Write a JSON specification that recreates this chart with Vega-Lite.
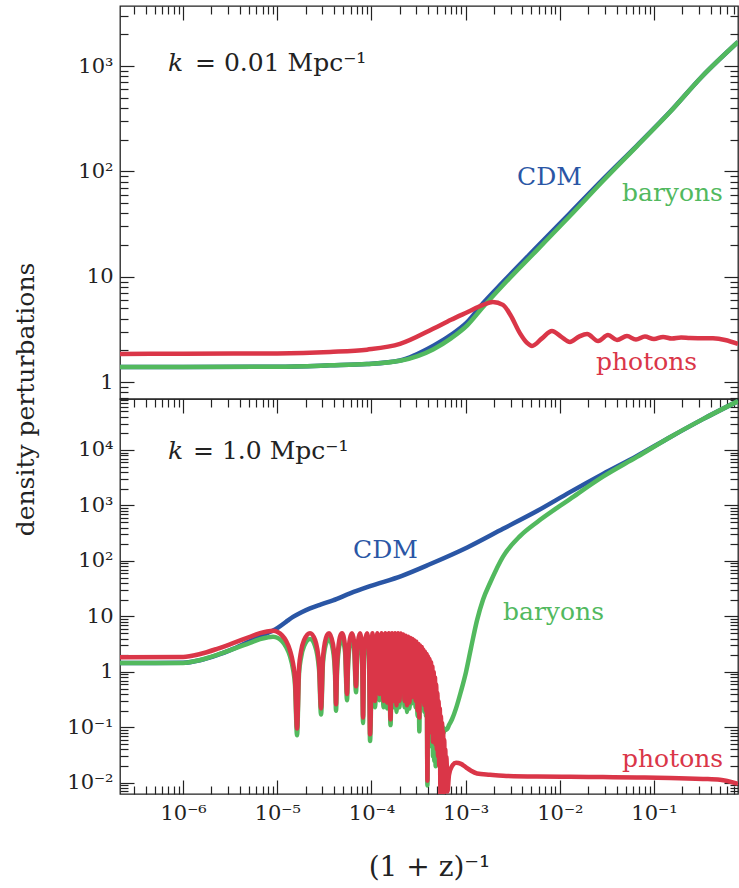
{
  "$schema": "https://vega.github.io/schema/vega-lite/v6.json",
  "padding": {"left": 13, "top": 4, "right": 1, "bottom": 3},
  "background": "white",
  "spacing": 0,
  "bounds": "flush",
  "config": {
    "font": "DejaVu Serif",
    "view": {"stroke": "#222", "strokeWidth": 1.3},
    "axis": {"domain": false, "grid": false, "tickColor": "#222", "tickWidth": 1.2, "labelFont": "DejaVu Serif", "labelFontSize": 21, "labelColor": "#222", "labelOverlap": false, "labelFlush": false, "labelBound": false, "titleFont": "DejaVu Serif", "titleFontSize": 25, "titleFontWeight": "normal", "titleColor": "#222"}
  },
  "datasets": {
    "top": [
      {"species":"CDM","a":2.14e-7,"delta":1.39},{"species":"CDM","a":1e-6,"delta":1.39},{"species":"CDM","a":1e-5,"delta":1.40},{"species":"CDM","a":3.64e-5,"delta":1.44},{"species":"CDM","a":8.97e-5,"delta":1.48},{"species":"CDM","a":2.01e-4,"delta":1.6},{"species":"CDM","a":4.51e-4,"delta":2.2},{"species":"CDM","a":7.0e-4,"delta":2.8},{"species":"CDM","a":1.04e-3,"delta":3.7},{"species":"CDM","a":1.53e-3,"delta":5.6},{"species":"CDM","a":2.49e-3,"delta":8.9},{"species":"CDM","a":5.73e-3,"delta":19.2},{"species":"CDM","a":1.28e-2,"delta":40},{"species":"CDM","a":2.87e-2,"delta":84},{"species":"CDM","a":6.6e-2,"delta":176},{"species":"CDM","a":0.148,"delta":368},{"species":"CDM","a":0.32,"delta":788},{"species":"CDM","a":0.78,"delta":1694},
      {"species":"baryons","a":2.14e-7,"delta":1.39},{"species":"baryons","a":1e-6,"delta":1.39},{"species":"baryons","a":1e-5,"delta":1.40},{"species":"baryons","a":3.64e-5,"delta":1.44},{"species":"baryons","a":8.97e-5,"delta":1.48},{"species":"baryons","a":2.01e-4,"delta":1.59},{"species":"baryons","a":4.51e-4,"delta":2.04},{"species":"baryons","a":7.0e-4,"delta":2.6},{"species":"baryons","a":1.04e-3,"delta":3.45},{"species":"baryons","a":1.53e-3,"delta":5.15},{"species":"baryons","a":2.49e-3,"delta":8.3},{"species":"baryons","a":5.73e-3,"delta":17.9},{"species":"baryons","a":1.28e-2,"delta":37.7},{"species":"baryons","a":2.87e-2,"delta":81},{"species":"baryons","a":6.6e-2,"delta":174},{"species":"baryons","a":0.148,"delta":366},{"species":"baryons","a":0.32,"delta":788},{"species":"baryons","a":0.78,"delta":1694},
      {"species":"photons","a":2.14e-7,"delta":1.85},{"species":"photons","a":1e-6,"delta":1.86},{"species":"photons","a":1e-5,"delta":1.87},{"species":"photons","a":3.64e-5,"delta":1.93},{"species":"photons","a":8.97e-5,"delta":2.03},{"species":"photons","a":2.01e-4,"delta":2.3},{"species":"photons","a":4.51e-4,"delta":3.2},{"species":"photons","a":7.0e-4,"delta":3.9},{"species":"photons","a":1.04e-3,"delta":4.6},{"species":"photons","a":1.53e-3,"delta":5.4},{"species":"photons","a":1.95e-3,"delta":5.75},{"species":"photons","a":2.49e-3,"delta":5.4},{"species":"photons","a":2.96e-3,"delta":4.4},{"species":"photons","a":3.78e-3,"delta":2.9},{"species":"photons","a":4.49e-3,"delta":2.35},{"species":"photons","a":5.07e-3,"delta":2.2},{"species":"photons","a":6.47e-3,"delta":2.6},{"species":"photons","a":8.26e-3,"delta":3.05},{"species":"photons","a":1.03e-2,"delta":2.7},{"species":"photons","a":1.28e-2,"delta":2.4},{"species":"photons","a":1.6e-2,"delta":2.7},{"species":"photons","a":1.95e-2,"delta":2.86},{"species":"photons","a":2.55e-2,"delta":2.45},{"species":"photons","a":3.25e-2,"delta":2.79},{"species":"photons","a":4.05e-2,"delta":2.51},{"species":"photons","a":5.16e-2,"delta":2.73},{"species":"photons","a":6.44e-2,"delta":2.53},{"species":"photons","a":8.02e-2,"delta":2.70},{"species":"photons","a":0.1,"delta":2.56},{"species":"photons","a":0.125,"delta":2.68},{"species":"photons","a":0.155,"delta":2.59},{"species":"photons","a":0.194,"delta":2.65},{"species":"photons","a":0.241,"delta":2.62},{"species":"photons","a":0.423,"delta":2.6},{"species":"photons","a":0.568,"delta":2.51},{"species":"photons","a":0.78,"delta":2.3}
    ],
    "bottom": [
      {"species":"CDM","a":2.14e-7,"delta":1.45},{"species":"CDM","a":1e-6,"delta":1.46},{"species":"CDM","a":1.515e-6,"delta":1.62},{"species":"CDM","a":2.296e-6,"delta":2.0},{"species":"CDM","a":3.395e-6,"delta":2.6},{"species":"CDM","a":5.143e-6,"delta":3.6},{"species":"CDM","a":6.568e-6,"delta":4.3},{"species":"CDM","a":7.793e-6,"delta":5.0},{"species":"CDM","a":9.03e-6,"delta":5.6},{"species":"CDM","a":1.02e-5,"delta":6.3},{"species":"CDM","a":1.24e-5,"delta":8.0},{"species":"CDM","a":1.47e-5,"delta":9.8},{"species":"CDM","a":1.79e-5,"delta":11.8},{"species":"CDM","a":2.23e-5,"delta":14},{"species":"CDM","a":2.92e-5,"delta":16.5},{"species":"CDM","a":3.91e-5,"delta":19.5},{"species":"CDM","a":5.93e-5,"delta":26},{"species":"CDM","a":9.66e-5,"delta":35},{"species":"CDM","a":2.11e-4,"delta":54},{"species":"CDM","a":4.22e-4,"delta":88},{"species":"CDM","a":1.04e-3,"delta":175},{"species":"CDM","a":2.495e-3,"delta":380},{"species":"CDM","a":5.73e-3,"delta":795},{"species":"CDM","a":1.283e-2,"delta":1740},{"species":"CDM","a":2.873e-2,"delta":3700},{"species":"CDM","a":6.6e-2,"delta":7800},{"species":"CDM","a":0.148,"delta":17000},{"species":"CDM","a":0.331,"delta":36000},{"species":"CDM","a":0.78,"delta":76000},
      {"species":"photons","a":2.14e-7,"delta":1.84},{"species":"photons","a":1e-6,"delta":1.86},{"species":"photons","a":1.515e-6,"delta":2.1},{"species":"photons","a":2.296e-6,"delta":2.6},{"species":"photons","a":3.395e-6,"delta":3.3},{"species":"photons","a":5.143e-6,"delta":4.3},{"species":"photons","a":6.568e-6,"delta":5.0},{"species":"photons","a":7.793e-6,"delta":5.35},{"species":"photons","a":9.025e-6,"delta":5.5},{"species":"photons","a":1.0197e-5,"delta":5.2},{"species":"photons","a":1.1245e-5,"delta":4.56},{"species":"photons","a":1.2402e-5,"delta":3.63},{"species":"photons","a":1.3677e-5,"delta":2.43},{"species":"photons","a":1.4715e-5,"delta":1.42},{"species":"photons","a":1.5453e-5,"delta":0.72},{"species":"photons","a":1.6226e-5,"delta":0.095},{"species":"photons","a":1.7036e-5,"delta":1.2},{"species":"photons","a":1.7889e-5,"delta":2.32},{"species":"photons","a":1.9251e-5,"delta":3.74},{"species":"photons","a":2.2293e-5,"delta":5.0},{"species":"photons","a":2.5191e-5,"delta":3.78},{"species":"photons","a":2.7783e-5,"delta":1.41},{"species":"photons","a":2.9177e-5,"delta":0.22},{"species":"photons","a":3.0636e-5,"delta":1.91},{"species":"photons","a":3.3788e-5,"delta":4.62},{"species":"photons","a":3.5477e-5,"delta":5.0},{"species":"photons","a":3.9127e-5,"delta":3.12},{"species":"photons","a":4.1085e-5,"delta":1.11},{"species":"photons","a":4.2101e-5,"delta":0.26},{"species":"photons","a":4.3141e-5,"delta":1.29},{"species":"photons","a":4.6416e-5,"delta":4.33},{"species":"photons","a":4.8748e-5,"delta":5.0},{"species":"photons","a":5.2449e-5,"delta":2.94},{"species":"photons","a":5.5079e-5,"delta":0.4},{"species":"photons","a":5.6442e-5,"delta":1.55},{"species":"photons","a":5.927e-5,"delta":4.05},{"species":"photons","a":6.2241e-5,"delta":5.0},{"species":"photons","a":6.5363e-5,"delta":3.54},{"species":"photons","a":6.8634e-5,"delta":0.55},{"species":"photons","a":7.0333e-5,"delta":1.91},{"species":"photons","a":7.2075e-5,"delta":3.54},{"species":"photons","a":7.5684e-5,"delta":5.0},{"species":"photons","a":7.9474e-5,"delta":2.5},{"species":"photons","a":8.1442e-5,"delta":0.15},{"species":"photons","a":8.3455e-5,"delta":1.91},{"species":"photons","a":8.552e-5,"delta":3.54},{"species":"photons","a":8.9802e-5,"delta":5.0},{"species":"photons","a":9.4298e-5,"delta":2.5},{"species":"photons","a":9.664e-5,"delta":0.075},
      {"species":"photons","a":1.027e-4,"delta":5.0},{"species":"photons","a":1.092e-4,"delta":0.3},{"species":"photons","a":1.154e-4,"delta":5.0},{"species":"photons","a":1.219e-4,"delta":0.4},{"species":"photons","a":1.280e-4,"delta":5.0},{"species":"photons","a":1.344e-4,"delta":0.3},{"species":"photons","a":1.403e-4,"delta":5.0},{"species":"photons","a":1.464e-4,"delta":0.28},{"species":"photons","a":1.528e-4,"delta":5.0},{"species":"photons","a":1.595e-4,"delta":0.14},{"species":"photons","a":1.655e-4,"delta":5.0},{"species":"photons","a":1.717e-4,"delta":0.3},{"species":"photons","a":1.781e-4,"delta":5.0},{"species":"photons","a":1.847e-4,"delta":0.25},{"species":"photons","a":1.916e-4,"delta":5.0},{"species":"photons","a":1.988e-4,"delta":0.3},{"species":"photons","a":2.050e-4,"delta":4.9},{"species":"photons","a":2.113e-4,"delta":0.9},{"species":"photons","a":2.179e-4,"delta":4.7},{"species":"photons","a":2.246e-4,"delta":0.3},{"species":"photons","a":2.316e-4,"delta":4.5},{"species":"photons","a":2.387e-4,"delta":0.25},{"species":"photons","a":2.461e-4,"delta":4.3},{"species":"photons","a":2.538e-4,"delta":0.28},{"species":"photons","a":2.601e-4,"delta":4.1},{"species":"photons","a":2.665e-4,"delta":0.35},{"species":"photons","a":2.731e-4,"delta":3.9},{"species":"photons","a":2.799e-4,"delta":0.55},{"species":"photons","a":2.868e-4,"delta":3.7},{"species":"photons","a":2.939e-4,"delta":0.3},{"species":"photons","a":3.012e-4,"delta":3.5},{"species":"photons","a":3.086e-4,"delta":0.2},{"species":"photons","a":3.155e-4,"delta":3.2},{"species":"photons","a":3.225e-4,"delta":0.15},{"species":"photons","a":3.293e-4,"delta":3.0},{"species":"photons","a":3.362e-4,"delta":0.3},{"species":"photons","a":3.432e-4,"delta":2.8},{"species":"photons","a":3.505e-4,"delta":0.35},{"species":"photons","a":3.574e-4,"delta":2.5},{"species":"photons","a":3.644e-4,"delta":0.25},{"species":"photons","a":3.716e-4,"delta":2.3},{"species":"photons","a":3.790e-4,"delta":0.2},{"species":"photons","a":3.860e-4,"delta":2.1},{"species":"photons","a":3.931e-4,"delta":0.011},{"species":"photons","a":4.004e-4,"delta":1.9},{"species":"photons","a":4.078e-4,"delta":0.15},{"species":"photons","a":4.148e-4,"delta":1.7},{"species":"photons","a":4.220e-4,"delta":0.12},{"species":"photons","a":4.292e-4,"delta":1.5},{"species":"photons","a":4.366e-4,"delta":0.08},{"species":"photons","a":4.437e-4,"delta":1.25},{"species":"photons","a":4.507e-4,"delta":0.055},{"species":"photons","a":4.580e-4,"delta":1.0},{"species":"photons","a":4.653e-4,"delta":0.06},{"species":"photons","a":4.728e-4,"delta":0.8},{"species":"photons","a":4.803e-4,"delta":0.05},{"species":"photons","a":4.874e-4,"delta":0.6},{"species":"photons","a":4.946e-4,"delta":0.04},{"species":"photons","a":5.019e-4,"delta":0.42},{"species":"photons","a":5.093e-4,"delta":0.03},{"species":"photons","a":5.169e-4,"delta":0.3},{"species":"photons","a":5.245e-4,"delta":0.02},{"species":"photons","a":5.322e-4,"delta":0.22},{"species":"photons","a":5.401e-4,"delta":0.006},{"species":"photons","a":5.474e-4,"delta":0.16},{"species":"photons","a":5.548e-4,"delta":0.015},{"species":"photons","a":5.624e-4,"delta":0.12},{"species":"photons","a":5.699e-4,"delta":0.007},{"species":"photons","a":5.777e-4,"delta":0.085},{"species":"photons","a":5.855e-4,"delta":0.006},{"species":"photons","a":5.934e-4,"delta":0.06},{"species":"photons","a":6.014e-4,"delta":0.007},{"species":"photons","a":6.088e-4,"delta":0.04},{"species":"photons","a":6.163e-4,"delta":0.012},{"species":"photons","a":6.239e-4,"delta":0.03},{"species":"photons","a":6.316e-4,"delta":0.02},{"species":"photons","a":6.424e-4,"delta":0.007},{"species":"photons","a":6.664e-4,"delta":0.014},{"species":"photons","a":7.174e-4,"delta":0.02},{"species":"photons","a":7.910e-4,"delta":0.023},{"species":"photons","a":8.937e-4,"delta":0.022},{"species":"photons","a":1.010e-3,"delta":0.019},{"species":"photons","a":1.141e-3,"delta":0.0165},{"species":"photons","a":1.321e-3,"delta":0.0148},{"species":"photons","a":1.816e-3,"delta":0.014},{"species":"photons","a":2.495e-3,"delta":0.0134},{"species":"photons","a":5.728e-3,"delta":0.013},{"species":"photons","a":1.283e-2,"delta":0.0129},{"species":"photons","a":2.873e-2,"delta":0.0127},{"species":"photons","a":6.6e-2,"delta":0.0125},{"species":"photons","a":0.1479,"delta":0.0123},{"species":"photons","a":0.331,"delta":0.0118},{"species":"photons","a":0.502,"delta":0.0114},{"species":"photons","a":0.78,"delta":0.0096},
      {"species":"baryons","a":2.14e-7,"delta":1.44},{"species":"baryons","a":1e-6,"delta":1.45},{"species":"baryons","a":1.515e-6,"delta":1.64},{"species":"baryons","a":2.296e-6,"delta":2.03},{"species":"baryons","a":3.395e-6,"delta":2.57},{"species":"baryons","a":5.143e-6,"delta":3.35},{"species":"baryons","a":6.568e-6,"delta":3.9},{"species":"baryons","a":7.793e-6,"delta":4.17},{"species":"baryons","a":9.025e-6,"delta":4.3},{"species":"baryons","a":1.0197e-5,"delta":4.06},{"species":"baryons","a":1.1245e-5,"delta":3.56},{"species":"baryons","a":1.2402e-5,"delta":2.83},{"species":"baryons","a":1.3677e-5,"delta":1.9},{"species":"baryons","a":1.4715e-5,"delta":1.11},{"species":"baryons","a":1.5453e-5,"delta":0.56},{"species":"baryons","a":1.6226e-5,"delta":0.072},{"species":"baryons","a":1.7036e-5,"delta":0.94},{"species":"baryons","a":1.7889e-5,"delta":1.81},{"species":"baryons","a":1.9251e-5,"delta":2.92},{"species":"baryons","a":2.2293e-5,"delta":3.9},{"species":"baryons","a":2.5191e-5,"delta":2.95},{"species":"baryons","a":2.7783e-5,"delta":1.1},{"species":"baryons","a":2.9177e-5,"delta":0.17},{"species":"baryons","a":3.0636e-5,"delta":1.49},{"species":"baryons","a":3.3788e-5,"delta":3.6},{"species":"baryons","a":3.5477e-5,"delta":3.9},{"species":"baryons","a":3.9127e-5,"delta":2.43},{"species":"baryons","a":4.1085e-5,"delta":0.87},{"species":"baryons","a":4.2101e-5,"delta":0.2},{"species":"baryons","a":4.3141e-5,"delta":1.0},{"species":"baryons","a":4.6416e-5,"delta":3.38},{"species":"baryons","a":4.8748e-5,"delta":3.9},{"species":"baryons","a":5.2449e-5,"delta":2.29},{"species":"baryons","a":5.5079e-5,"delta":0.31},{"species":"baryons","a":5.6442e-5,"delta":1.21},{"species":"baryons","a":5.927e-5,"delta":3.16},{"species":"baryons","a":6.2241e-5,"delta":3.9},{"species":"baryons","a":6.5363e-5,"delta":2.76},{"species":"baryons","a":6.8634e-5,"delta":0.43},{"species":"baryons","a":7.0333e-5,"delta":1.49},{"species":"baryons","a":7.2075e-5,"delta":2.76},{"species":"baryons","a":7.5684e-5,"delta":3.9},{"species":"baryons","a":7.9474e-5,"delta":1.95},{"species":"baryons","a":8.1442e-5,"delta":0.12},{"species":"baryons","a":8.3455e-5,"delta":1.49},{"species":"baryons","a":8.552e-5,"delta":2.76},{"species":"baryons","a":8.9802e-5,"delta":3.9},{"species":"baryons","a":9.4298e-5,"delta":1.95},{"species":"baryons","a":9.664e-5,"delta":0.057},
      {"species":"baryons","a":1.027e-4,"delta":3.9},{"species":"baryons","a":1.092e-4,"delta":0.23},{"species":"baryons","a":1.154e-4,"delta":3.9},{"species":"baryons","a":1.219e-4,"delta":0.31},{"species":"baryons","a":1.280e-4,"delta":3.9},{"species":"baryons","a":1.344e-4,"delta":0.23},{"species":"baryons","a":1.403e-4,"delta":3.9},{"species":"baryons","a":1.464e-4,"delta":0.22},{"species":"baryons","a":1.528e-4,"delta":3.9},{"species":"baryons","a":1.595e-4,"delta":0.11},{"species":"baryons","a":1.655e-4,"delta":3.9},{"species":"baryons","a":1.717e-4,"delta":0.23},{"species":"baryons","a":1.781e-4,"delta":3.9},{"species":"baryons","a":1.847e-4,"delta":0.19},{"species":"baryons","a":1.916e-4,"delta":3.9},{"species":"baryons","a":1.988e-4,"delta":0.23},{"species":"baryons","a":2.050e-4,"delta":3.8},{"species":"baryons","a":2.113e-4,"delta":0.7},{"species":"baryons","a":2.179e-4,"delta":3.7},{"species":"baryons","a":2.246e-4,"delta":0.23},{"species":"baryons","a":2.316e-4,"delta":3.5},{"species":"baryons","a":2.387e-4,"delta":0.19},{"species":"baryons","a":2.461e-4,"delta":3.35},{"species":"baryons","a":2.538e-4,"delta":0.22},{"species":"baryons","a":2.601e-4,"delta":3.2},{"species":"baryons","a":2.665e-4,"delta":0.27},{"species":"baryons","a":2.731e-4,"delta":3.0},{"species":"baryons","a":2.799e-4,"delta":0.43},{"species":"baryons","a":2.868e-4,"delta":2.9},{"species":"baryons","a":2.939e-4,"delta":0.23},{"species":"baryons","a":3.012e-4,"delta":2.7},{"species":"baryons","a":3.086e-4,"delta":0.16},{"species":"baryons","a":3.155e-4,"delta":2.5},{"species":"baryons","a":3.225e-4,"delta":0.085},{"species":"baryons","a":3.293e-4,"delta":2.3},{"species":"baryons","a":3.362e-4,"delta":0.23},{"species":"baryons","a":3.432e-4,"delta":2.2},{"species":"baryons","a":3.505e-4,"delta":0.27},{"species":"baryons","a":3.574e-4,"delta":1.95},{"species":"baryons","a":3.644e-4,"delta":0.19},{"species":"baryons","a":3.716e-4,"delta":1.8},{"species":"baryons","a":3.790e-4,"delta":0.16},{"species":"baryons","a":3.860e-4,"delta":1.64},{"species":"baryons","a":3.931e-4,"delta":0.009},{"species":"baryons","a":4.004e-4,"delta":1.48},{"species":"baryons","a":4.078e-4,"delta":0.12},{"species":"baryons","a":4.148e-4,"delta":1.33},{"species":"baryons","a":4.220e-4,"delta":0.09},{"species":"baryons","a":4.292e-4,"delta":1.17},{"species":"baryons","a":4.366e-4,"delta":0.045},{"species":"baryons","a":4.437e-4,"delta":0.95},{"species":"baryons","a":4.507e-4,"delta":0.03},{"species":"baryons","a":4.580e-4,"delta":0.75},{"species":"baryons","a":4.653e-4,"delta":0.025},{"species":"baryons","a":4.728e-4,"delta":0.55},{"species":"baryons","a":4.803e-4,"delta":0.02},{"species":"baryons","a":4.874e-4,"delta":0.4},{"species":"baryons","a":4.946e-4,"delta":0.025},{"species":"baryons","a":5.019e-4,"delta":0.28},{"species":"baryons","a":5.093e-4,"delta":0.03},{"species":"baryons","a":5.169e-4,"delta":0.2},{"species":"baryons","a":5.245e-4,"delta":0.04},{"species":"baryons","a":5.322e-4,"delta":0.15},{"species":"baryons","a":5.401e-4,"delta":0.05},{"species":"baryons","a":5.474e-4,"delta":0.12},{"species":"baryons","a":5.548e-4,"delta":0.06},{"species":"baryons","a":5.624e-4,"delta":0.11},{"species":"baryons","a":5.699e-4,"delta":0.07},{"species":"baryons","a":5.777e-4,"delta":0.1},{"species":"baryons","a":5.855e-4,"delta":0.08},{"species":"baryons","a":5.934e-4,"delta":0.095},{"species":"baryons","a":6.014e-4,"delta":0.088},{"species":"baryons","a":6.088e-4,"delta":0.092},{"species":"baryons","a":6.163e-4,"delta":0.09},{"species":"baryons","a":6.239e-4,"delta":0.092},{"species":"baryons","a":6.316e-4,"delta":0.093},{"species":"baryons","a":6.424e-4,"delta":0.096},{"species":"baryons","a":6.664e-4,"delta":0.11},{"species":"baryons","a":7.174e-4,"delta":0.14},{"species":"baryons","a":7.910e-4,"delta":0.22},{"species":"baryons","a":8.937e-4,"delta":0.45},{"species":"baryons","a":1.010e-3,"delta":1.0},{"species":"baryons","a":1.141e-3,"delta":2.7},{"species":"baryons","a":1.321e-3,"delta":8.5},{"species":"baryons","a":1.530e-3,"delta":20},{"species":"baryons","a":1.816e-3,"delta":40},{"species":"baryons","a":2.495e-3,"delta":120},{"species":"baryons","a":3.780e-3,"delta":280},{"species":"baryons","a":5.728e-3,"delta":500},{"species":"baryons","a":1.283e-2,"delta":1300},{"species":"baryons","a":2.873e-2,"delta":3300},{"species":"baryons","a":6.6e-2,"delta":7500},{"species":"baryons","a":0.1479,"delta":17000},{"species":"baryons","a":0.331,"delta":36000},{"species":"baryons","a":0.78,"delta":76000}
    ],
    "topLabels": [
      {"species":"CDM","a":3.513e-3,"delta":74.3},{"species":"baryons","a":4.574e-2,"delta":52.4},{"species":"photons","a":2.423e-2,"delta":1.30}
    ],
    "bottomLabels": [
      {"species":"CDM","a":6.378e-5,"delta":113},{"species":"baryons","a":2.495e-3,"delta":8.65},{"species":"photons","a":4.574e-2,"delta":0.0194}
    ]
  },
  "vconcat": [
    {
      "width": 618, "height": 393,
      "resolve": {"axis": {"x": "independent", "y": "independent"}},
      "layer": [
        {"data": {"name": "top"}, "transform": [{"filter": "datum.species == 'CDM'"}],
         "mark": {"type": "line", "interpolate": "monotone", "strokeWidth": 4.5, "clip": true},
         "encoding": {
           "x": {"field": "a", "type": "quantitative", "scale": {"type": "log", "domain": [2.14e-7, 0.78], "nice": false}, "axis": null},
           "y": {"field": "delta", "type": "quantitative", "scale": {"type": "log", "domain": [0.69, 3720], "nice": false},
                 "axis": {"orient": "left", "title": null, "labelPadding": 21,
                          "values": [0.7,0.8,0.9,1,2,3,4,5,6,7,8,9,10,20,30,40,50,60,70,80,90,100,200,300,400,500,600,700,800,900,1000,2000,3000],
                          "labelExpr": "datum.value == 1 ? '1' : datum.value == 10 ? '10' : datum.value == 100 ? '10²' : datum.value == 1000 ? '10³' : ''",
                          "tickSize": {"condition": {"test": "indexof([1,10,100,1000], datum.value) >= 0", "value": -14}, "value": -8}}},
           "color": {"field": "species", "type": "nominal", "scale": {"domain": ["CDM","baryons","photons"], "range": ["#2a56a5","#52b95e","#da3648"]}, "legend": null}}},
        {"data": {"name": "top"}, "transform": [{"filter": "datum.species == 'baryons'"}],
         "mark": {"type": "line", "interpolate": "monotone", "strokeWidth": 4.5, "clip": true},
         "encoding": {
           "x": {"field": "a", "type": "quantitative", "scale": {"type": "log", "domain": [2.14e-7, 0.78], "nice": false}, "axis": null},
           "y": {"field": "delta", "type": "quantitative", "scale": {"type": "log", "domain": [0.69, 3720], "nice": false}, "axis": null},
           "color": {"field": "species", "type": "nominal", "scale": {"domain": ["CDM","baryons","photons"], "range": ["#2a56a5","#52b95e","#da3648"]}, "legend": null}}},
        {"data": {"name": "top"}, "transform": [{"filter": "datum.species == 'photons'"}],
         "mark": {"type": "line", "interpolate": "monotone", "strokeWidth": 4.5, "clip": true},
         "encoding": {
           "x": {"field": "a", "type": "quantitative", "scale": {"type": "log", "domain": [2.14e-7, 0.78], "nice": false}, "axis": null},
           "y": {"field": "delta", "type": "quantitative", "scale": {"type": "log", "domain": [0.69, 3720], "nice": false}, "axis": null},
           "color": {"field": "species", "type": "nominal", "scale": {"domain": ["CDM","baryons","photons"], "range": ["#2a56a5","#52b95e","#da3648"]}, "legend": null}}},
        {"data": {"name": "topLabels"},
         "mark": {"type": "text", "align": "left", "baseline": "alphabetic", "fontSize": 25, "font": "DejaVu Serif"},
         "encoding": {
           "x": {"field": "a", "type": "quantitative", "scale": {"type": "log", "domain": [2.14e-7, 0.78], "nice": false},
                 "axis": {"orient": "top", "title": null, "labels": false,
                          "values": [3e-7,4e-7,5e-7,6e-7,7e-7,8e-7,9e-7,1e-6,2e-6,3e-6,4e-6,5e-6,6e-6,7e-6,8e-6,9e-6,1e-5,2e-5,3e-5,4e-5,5e-5,6e-5,7e-5,8e-5,9e-5,1e-4,2e-4,3e-4,4e-4,5e-4,6e-4,7e-4,8e-4,9e-4,0.001,0.002,0.003,0.004,0.005,0.006,0.007,0.008,0.009,0.01,0.02,0.03,0.04,0.05,0.06,0.07,0.08,0.09,0.1,0.2,0.3,0.4,0.5,0.6,0.7],
                          "tickSize": {"condition": {"test": "indexof([1e-6,1e-5,1e-4,0.001,0.01,0.1], datum.value) >= 0", "value": -14}, "value": -8}}},
           "y": {"field": "delta", "type": "quantitative", "scale": {"type": "log", "domain": [0.69, 3720], "nice": false},
                 "axis": {"orient": "right", "title": null, "labels": false,
                          "values": [0.7,0.8,0.9,1,2,3,4,5,6,7,8,9,10,20,30,40,50,60,70,80,90,100,200,300,400,500,600,700,800,900,1000,2000,3000],
                          "tickSize": {"condition": {"test": "indexof([1,10,100,1000], datum.value) >= 0", "value": -14}, "value": -8}}},
           "color": {"field": "species", "type": "nominal", "scale": {"domain": ["CDM","baryons","photons"], "range": ["#2a56a5","#52b95e","#da3648"]}, "legend": null},
           "text": {"field": "species"}}},
        {"data": {"values": [{"a": 6.93e-7, "delta": 898, "t": "k"}]},
         "mark": {"type": "text", "align": "left", "baseline": "alphabetic", "fontSize": 25, "fontStyle": "italic", "font": "DejaVu Serif", "color": "#222"},
         "encoding": {
           "x": {"field": "a", "type": "quantitative", "scale": {"type": "log", "domain": [2.14e-7, 0.78], "nice": false}, "axis": null},
           "y": {"field": "delta", "type": "quantitative", "scale": {"type": "log", "domain": [0.69, 3720], "nice": false}, "axis": null},
           "text": {"field": "t"}}},
        {"data": {"values": [{"a": 1.341e-6, "delta": 898, "t": "= 0.01 Mpc⁻¹"}]},
         "mark": {"type": "text", "align": "left", "baseline": "alphabetic", "fontSize": 25, "font": "DejaVu Serif", "color": "#222"},
         "encoding": {
           "x": {"field": "a", "type": "quantitative", "scale": {"type": "log", "domain": [2.14e-7, 0.78], "nice": false}, "axis": null},
           "y": {"field": "delta", "type": "quantitative", "scale": {"type": "log", "domain": [0.69, 3720], "nice": false}, "axis": null},
           "text": {"field": "t"}}}
      ]
    },
    {
      "width": 618, "height": 395,
      "resolve": {"axis": {"x": "independent", "y": "independent"}},
      "layer": [
        {"data": {"name": "bottom"}, "transform": [{"filter": "datum.species == 'CDM'"}],
         "mark": {"type": "line", "interpolate": "monotone", "strokeWidth": 4.5, "clip": true},
         "encoding": {
           "x": {"field": "a", "type": "quantitative", "scale": {"type": "log", "domain": [2.14e-7, 0.78], "nice": false},
                 "axis": {"orient": "bottom", "title": "(1 + z)⁻¹", "titleFontSize": 28, "labelPadding": 22, "titlePadding": 24,
                          "values": [3e-7,4e-7,5e-7,6e-7,7e-7,8e-7,9e-7,1e-6,2e-6,3e-6,4e-6,5e-6,6e-6,7e-6,8e-6,9e-6,1e-5,2e-5,3e-5,4e-5,5e-5,6e-5,7e-5,8e-5,9e-5,1e-4,2e-4,3e-4,4e-4,5e-4,6e-4,7e-4,8e-4,9e-4,0.001,0.002,0.003,0.004,0.005,0.006,0.007,0.008,0.009,0.01,0.02,0.03,0.04,0.05,0.06,0.07,0.08,0.09,0.1,0.2,0.3,0.4,0.5,0.6,0.7],
                          "labelExpr": "datum.value == 1e-6 ? '10⁻⁶' : datum.value == 1e-5 ? '10⁻⁵' : datum.value == 1e-4 ? '10⁻⁴' : datum.value == 0.001 ? '10⁻³' : datum.value == 0.01 ? '10⁻²' : datum.value == 0.1 ? '10⁻¹' : ''",
                          "tickSize": {"condition": {"test": "indexof([1e-6,1e-5,1e-4,0.001,0.01,0.1], datum.value) >= 0", "value": -14}, "value": -8}}},
           "y": {"field": "delta", "type": "quantitative", "scale": {"type": "log", "domain": [0.0063, 83000], "nice": false},
                 "axis": {"orient": "left", "title": "density perturbations", "titleAnchor": "end", "titleAlign": "center", "titlePadding": 28, "labelPadding": 21,
                          "values": [0.007,0.008,0.009,0.01,0.02,0.03,0.04,0.05,0.06,0.07,0.08,0.09,0.1,0.2,0.3,0.4,0.5,0.6,0.7,0.8,0.9,1,2,3,4,5,6,7,8,9,10,20,30,40,50,60,70,80,90,100,200,300,400,500,600,700,800,900,1000,2000,3000,4000,5000,6000,7000,8000,9000,10000,20000,30000,40000,50000,60000,70000,80000],
                          "labelExpr": "datum.value == 0.01 ? '10⁻²' : datum.value == 0.1 ? '10⁻¹' : datum.value == 1 ? '1' : datum.value == 10 ? '10' : datum.value == 100 ? '10²' : datum.value == 1000 ? '10³' : datum.value == 10000 ? '10⁴' : ''",
                          "tickSize": {"condition": {"test": "indexof([0.01,0.1,1,10,100,1000,10000], datum.value) >= 0", "value": -14}, "value": -8}}},
           "color": {"field": "species", "type": "nominal", "scale": {"domain": ["CDM","baryons","photons"], "range": ["#2a56a5","#52b95e","#da3648"]}, "legend": null}}},
        {"data": {"name": "bottom"}, "transform": [{"filter": "datum.species == 'baryons'"}],
         "mark": {"type": "line", "interpolate": "monotone", "strokeWidth": 4.5, "clip": true},
         "encoding": {
           "x": {"field": "a", "type": "quantitative", "scale": {"type": "log", "domain": [2.14e-7, 0.78], "nice": false}, "axis": null},
           "y": {"field": "delta", "type": "quantitative", "scale": {"type": "log", "domain": [0.0063, 83000], "nice": false}, "axis": null},
           "color": {"field": "species", "type": "nominal", "scale": {"domain": ["CDM","baryons","photons"], "range": ["#2a56a5","#52b95e","#da3648"]}, "legend": null}}},
        {"data": {"name": "bottom"}, "transform": [{"filter": "datum.species == 'photons'"}],
         "mark": {"type": "line", "interpolate": "monotone", "strokeWidth": 4.5, "clip": true},
         "encoding": {
           "x": {"field": "a", "type": "quantitative", "scale": {"type": "log", "domain": [2.14e-7, 0.78], "nice": false}, "axis": null},
           "y": {"field": "delta", "type": "quantitative", "scale": {"type": "log", "domain": [0.0063, 83000], "nice": false}, "axis": null},
           "color": {"field": "species", "type": "nominal", "scale": {"domain": ["CDM","baryons","photons"], "range": ["#2a56a5","#52b95e","#da3648"]}, "legend": null}}},
        {"data": {"name": "bottomLabels"},
         "mark": {"type": "text", "align": "left", "baseline": "alphabetic", "fontSize": 25, "font": "DejaVu Serif"},
         "encoding": {
           "x": {"field": "a", "type": "quantitative", "scale": {"type": "log", "domain": [2.14e-7, 0.78], "nice": false},
                 "axis": {"orient": "top", "title": null, "labels": false,
                          "values": [3e-7,4e-7,5e-7,6e-7,7e-7,8e-7,9e-7,1e-6,2e-6,3e-6,4e-6,5e-6,6e-6,7e-6,8e-6,9e-6,1e-5,2e-5,3e-5,4e-5,5e-5,6e-5,7e-5,8e-5,9e-5,1e-4,2e-4,3e-4,4e-4,5e-4,6e-4,7e-4,8e-4,9e-4,0.001,0.002,0.003,0.004,0.005,0.006,0.007,0.008,0.009,0.01,0.02,0.03,0.04,0.05,0.06,0.07,0.08,0.09,0.1,0.2,0.3,0.4,0.5,0.6,0.7],
                          "tickSize": {"condition": {"test": "indexof([1e-6,1e-5,1e-4,0.001,0.01,0.1], datum.value) >= 0", "value": -14}, "value": -8}}},
           "y": {"field": "delta", "type": "quantitative", "scale": {"type": "log", "domain": [0.0063, 83000], "nice": false},
                 "axis": {"orient": "right", "title": null, "labels": false,
                          "values": [0.007,0.008,0.009,0.01,0.02,0.03,0.04,0.05,0.06,0.07,0.08,0.09,0.1,0.2,0.3,0.4,0.5,0.6,0.7,0.8,0.9,1,2,3,4,5,6,7,8,9,10,20,30,40,50,60,70,80,90,100,200,300,400,500,600,700,800,900,1000,2000,3000,4000,5000,6000,7000,8000,9000,10000,20000,30000,40000,50000,60000,70000,80000],
                          "tickSize": {"condition": {"test": "indexof([0.01,0.1,1,10,100,1000,10000], datum.value) >= 0", "value": -14}, "value": -8}}},
           "color": {"field": "species", "type": "nominal", "scale": {"domain": ["CDM","baryons","photons"], "range": ["#2a56a5","#52b95e","#da3648"]}, "legend": null},
           "text": {"field": "species"}}},
        {"data": {"values": [{"a": 6.93e-7, "delta": 6886, "t": "k"}]},
         "mark": {"type": "text", "align": "left", "baseline": "alphabetic", "fontSize": 25, "fontStyle": "italic", "font": "DejaVu Serif", "color": "#222"},
         "encoding": {
           "x": {"field": "a", "type": "quantitative", "scale": {"type": "log", "domain": [2.14e-7, 0.78], "nice": false}, "axis": null},
           "y": {"field": "delta", "type": "quantitative", "scale": {"type": "log", "domain": [0.0063, 83000], "nice": false}, "axis": null},
           "text": {"field": "t"}}},
        {"data": {"values": [{"a": 1.277e-6, "delta": 6886, "t": "= 1.0 Mpc⁻¹"}]},
         "mark": {"type": "text", "align": "left", "baseline": "alphabetic", "fontSize": 25, "font": "DejaVu Serif", "color": "#222"},
         "encoding": {
           "x": {"field": "a", "type": "quantitative", "scale": {"type": "log", "domain": [2.14e-7, 0.78], "nice": false}, "axis": null},
           "y": {"field": "delta", "type": "quantitative", "scale": {"type": "log", "domain": [0.0063, 83000], "nice": false}, "axis": null},
           "text": {"field": "t"}}}
      ]
    }
  ]
}
